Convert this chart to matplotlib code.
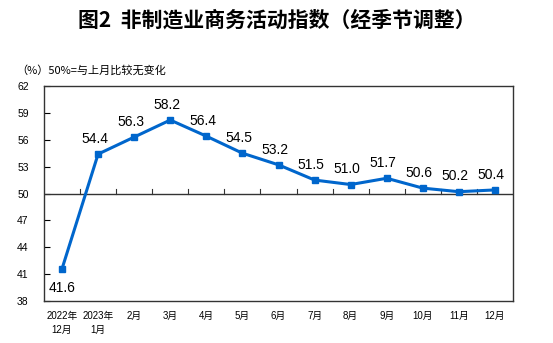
import matplotlib
matplotlib.use("Agg")
import matplotlib.pyplot as plt
import numpy as np

plt.rcParams['font.family'] = ['Liberation Sans', 'Noto Sans CJK SC', 'DejaVu Sans']

# 非制造业商务活动指数（经季节调整）
months = ["2022年\n12月", "2023年\n1月", "2月", "3月", "4月", "5月", "6月",
          "7月", "8月", "9月", "10月", "11月", "12月"]
values = [41.6, 54.4, 56.3, 58.2, 56.4, 54.5, 53.2, 51.5, 51.0, 51.7, 50.6, 50.2, 50.4]
yticks = [38, 41, 44, 47, 50, 53, 56, 59, 62]

fig = plt.figure(figsize=(5.53, 3.43), dpi=100)
ax = fig.add_axes([44 / 553, 1 - 301 / 343, 469 / 553, 215 / 343])

x = np.arange(len(values))
blue = "#0066CC"
ax.plot(x, values, color=blue, lw=2.2, marker="s", ms=5, zorder=3)

# 50 线（荣枯线）及分隔刻度
ax.axhline(50, color="#333333", lw=1.0, zorder=2)
for b in np.arange(0.5, len(values) - 1, 1.0):
    ax.plot([b, b], [50, 50 + 0.45], color="#333333", lw=0.8, zorder=2)

for i, v in enumerate(values):
    if i == 0:
        ax.text(i, v - 2.2, f"{v:.1f}", ha="center", va="center", fontsize=10)
    else:
        ax.text(i - 0.1, v + 1.7, f"{v:.1f}", ha="center", va="center", fontsize=10)

ax.set_xlim(-0.5, len(values) - 0.5)
ax.set_ylim(38, 62)
ax.set_yticks(yticks)
ax.set_yticklabels([str(t) for t in yticks], fontsize=7.5)
ax.tick_params(axis="y", direction="in", length=4, width=0.8, pad=11)
ax.set_xticks(x)
ax.set_xticklabels(months, fontsize=7, linespacing=1.5, va="top")
ax.tick_params(axis="x", length=0, pad=7)
for s in ax.spines.values():
    s.set_color("#333333")
    s.set_linewidth(1.0)

fig.text(0.5, 1 - 20 / 343, "图2  非制造业商务活动指数（经季节调整）", ha="center",
         va="center", fontsize=15, fontweight="bold",
         family=["Noto Sans CJK SC", "DejaVu Sans"])
fig.text(16 / 553, 1 - 70 / 343, "（%）50%=与上月比较无变化", ha="left", va="center",
         fontsize=8, family=["Noto Sans CJK SC", "DejaVu Sans"])

fig.savefig("out.png", dpi=100)
